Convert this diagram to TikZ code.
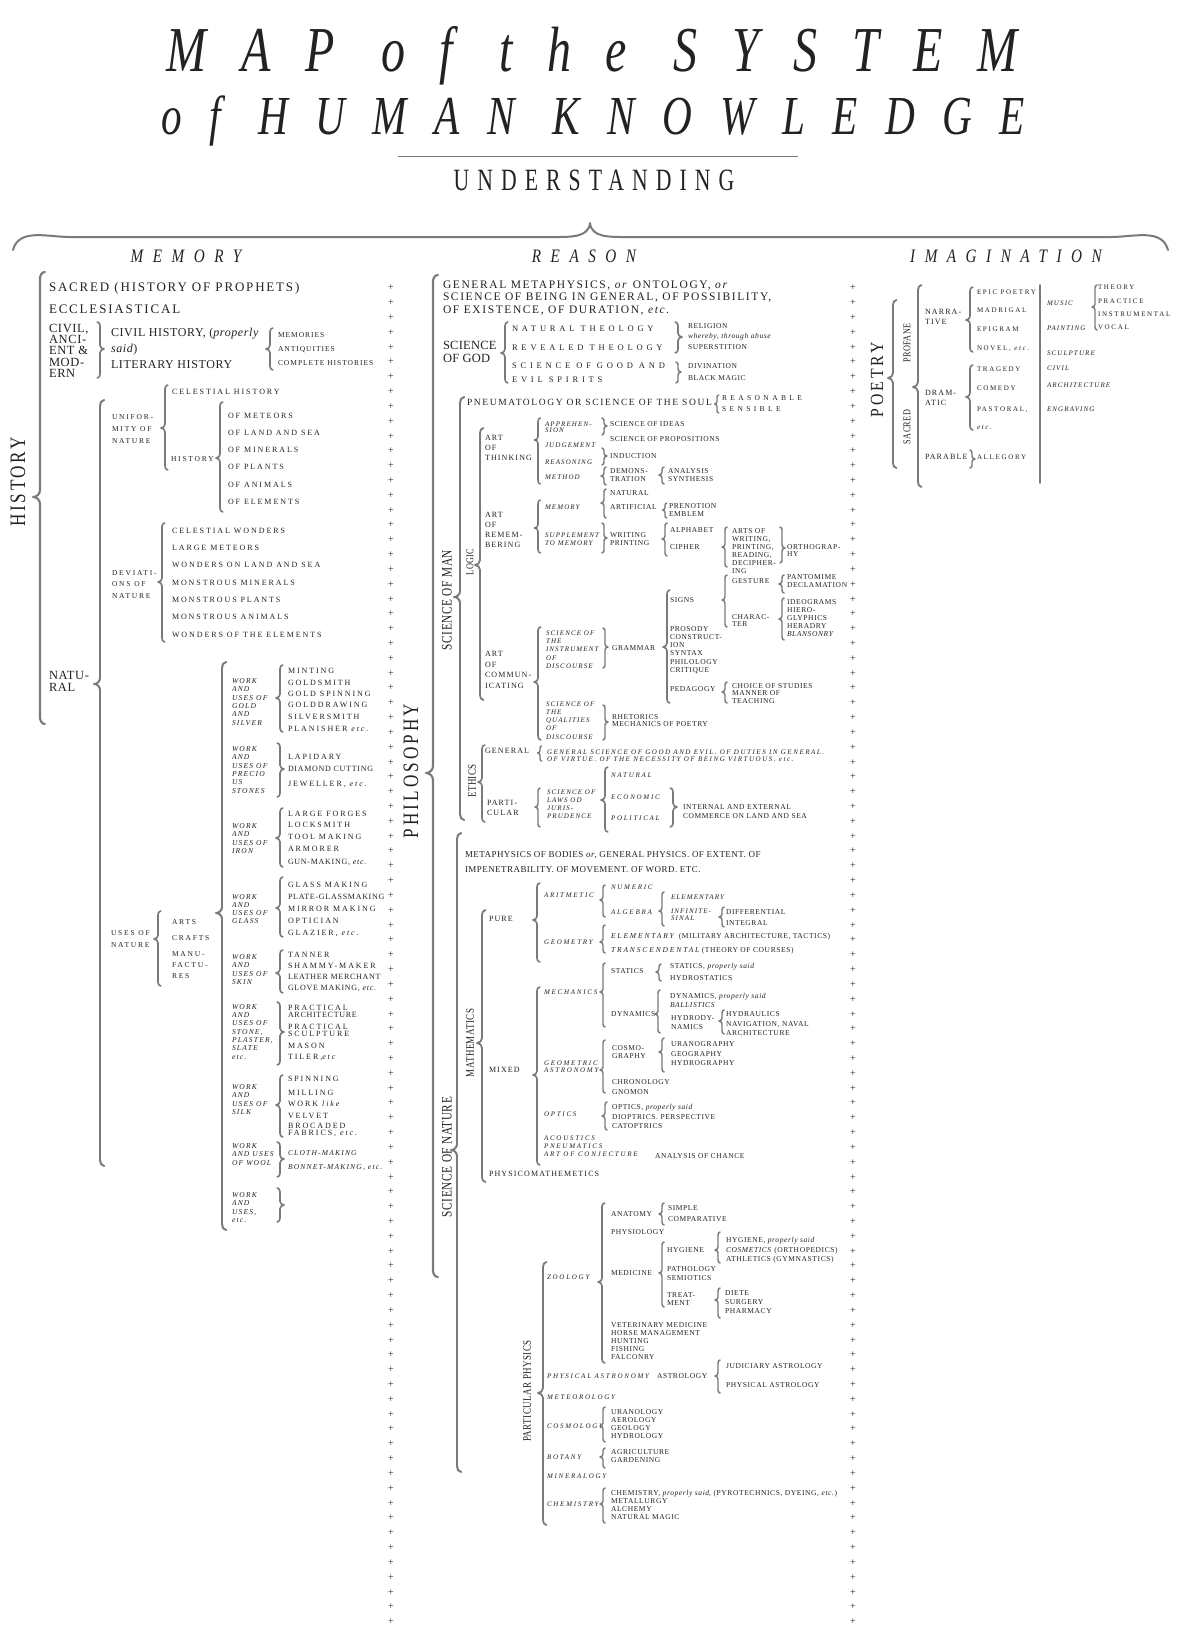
\documentclass[tikz,border=0pt]{standalone}
\usepackage{fontspec}
\setmainfont{Liberation Serif}
\newfontfamily\fA[LetterSpace=14]{Liberation Serif}
\newfontfamily\fAc[LetterSpace=5]{Liberation Serif}
\newfontfamily\fC[LetterSpace=5]{Liberation Serif}
\newfontfamily\fG[LetterSpace=2]{Liberation Serif}
\newfontfamily\fB[LetterSpace=24]{Liberation Serif}
\newfontfamily\fBm[LetterSpace=13]{Liberation Serif}
\newfontfamily\fBn[LetterSpace=9]{Liberation Serif}
\newfontfamily\fD[LetterSpace=8]{Liberation Serif}
\newfontfamily\fF[LetterSpace=45]{Liberation Serif}
\newfontfamily\fH[LetterSpace=14]{Liberation Serif}
\newfontfamily\fHp[LetterSpace=17]{Liberation Serif}
\newfontfamily\fR[LetterSpace=45]{Liberation Serif}
\newfontfamily\fJ[LetterSpace=16]{Liberation Serif}
\newfontfamily\fJw[LetterSpace=22]{Liberation Serif}
\newfontfamily\fX[LetterSpace=25]{Liberation Serif}
\newfontfamily\fRot[FakeStretch=0.78,LetterSpace=4]{Liberation Serif}
\newfontfamily\fBig[FakeStretch=0.78,LetterSpace=12]{Liberation Serif}
\newfontfamily\fPhil[FakeStretch=0.78,LetterSpace=14]{Liberation Serif}
\newfontfamily\fPo[FakeStretch=0.85,LetterSpace=16]{Liberation Serif}
\newfontfamily\fTitleA[FakeStretch=0.75,LetterSpace=54]{Liberation Serif}
\newfontfamily\fTitleB[FakeStretch=0.75,LetterSpace=50]{Liberation Serif}
\newfontfamily\fHead[FakeStretch=0.8,LetterSpace=50]{Liberation Serif}
\newfontfamily\fUnd[FakeStretch=0.7,LetterSpace=26]{Liberation Serif}
\definecolor{ink}{HTML}{222222}
\definecolor{brk}{HTML}{7A7A7A}
\newcounter{tn}
\newcommand\T[4][]{\stepcounter{tn}\node[tx,#1] (t\arabic{tn}) at ({#2},{#3}) {#4};}
\newcommand\ML[5][]{\foreach \s [count=\i from 0] in {#5} {\T[#1]{#2}{#3+\i*#4}{\s}}}
% left brace {  : [a]{x}{ytop}{ybottom}{ytip}
\newcommand\LB[5][3]{\draw[brc,line width={(0.95+#1*0.17)*1pt}] ({#2+#1*0.7},{#3}) to[out=180,in=90] ({#2},{#3+#1}) -- ({#2},{#5-#1}) to[out=-90,in=0] ({#2-#1},{#5}) to[out=0,in=90] ({#2},{#5+#1}) -- ({#2},{#4-#1}) to[out=-90,in=180] ({#2+#1*0.7},{#4});}
% right brace }
\newcommand\RB[5][3]{\draw[brc,line width={(0.95+#1*0.17)*1pt}] ({#2-#1*0.7},{#3}) to[out=0,in=90] ({#2},{#3+#1}) -- ({#2},{#5-#1}) to[out=-90,in=180] ({#2+#1},{#5}) to[out=180,in=90] ({#2},{#5+#1}) -- ({#2},{#4-#1}) to[out=-90,in=0] ({#2-#1*0.7},{#4});}
\tikzset{
 tx/.style={anchor=mid west,inner sep=0pt,outer sep=0pt,text=ink},
 brc/.style={draw=brk,line width=1.5pt,line cap=round,line join=round},
 rl/.style={anchor=center,rotate=90},
 pl/.style={anchor=center,inner sep=0pt,text=ink,font=\fontsize{10}{10}\selectfont},
 sA/.style={font=\fA\fontsize{13}{15}\selectfont},
 sAc/.style={font=\fAc\fontsize{12.5}{14}\selectfont},
 sC/.style={font=\fC\fontsize{12}{14}\selectfont},
 sM/.style={font=\fBm\fontsize{7.5}{9}\selectfont},
 sB/.style={font=\fB\fontsize{8}{9}\selectfont},
 sBn/.style={font=\fBn\fontsize{8}{9}\selectfont},
 sL/.style={font=\fB\fontsize{7.5}{9}\selectfont},
 sW/.style={font=\fJ\itshape\fontsize{7.5}{9}\selectfont},
 sE/.style={font=\fA\fontsize{11.5}{13}\selectfont},
 sG/.style={font=\fG\fontsize{12.5}{14}\selectfont},
 sF/.style={font=\fF\fontsize{8.5}{10}\selectfont},
 sD/.style={font=\fD\fontsize{7.5}{9}\selectfont},
 sH/.style={font=\fHp\fontsize{9.5}{11}\selectfont},
 sR/.style={font=\fR\fontsize{7.5}{9}\selectfont},
 sI/.style={font=\fH\fontsize{8}{9}\selectfont},
 sJ/.style={font=\fJ\itshape\fontsize{7}{8}\selectfont},
 sJw/.style={font=\fJw\itshape\fontsize{7}{8}\selectfont},
 sX/.style={font=\fX\itshape\fontsize{7}{8}\selectfont},
 sK/.style={font=\fC\fontsize{9}{10}\selectfont},
 sN/.style={font=\fB\fontsize{7}{8}\selectfont},
 sBig/.style={font=\fBig\fontsize{22}{22}\selectfont},
 sPhil/.style={font=\fPhil\fontsize{22}{22}\selectfont},
 sPo/.style={font=\fPo\fontsize{18.5}{18.5}\selectfont},
 sRot/.style={font=\fRot\fontsize{14.5}{14.5}\selectfont},
 sRots/.style={font=\fRot\fontsize{10.5}{11}\selectfont},
 sRotm/.style={font=\fRot\fontsize{11.5}{12}\selectfont},
 sTitle/.style={font=\fTitleA\itshape\fontsize{64}{64}\selectfont},
 sTitle2/.style={font=\fTitleB\itshape\fontsize{55}{55}\selectfont},
 sUnd/.style={font=\fUnd\fontsize{31}{31}\selectfont},
 sHead/.style={font=\fHead\itshape\fontsize{19}{19}\selectfont},
}
\begin{document}
\begin{tikzpicture}[x=1pt,y=-1pt]
\fill[white] (0,0) rectangle (1200,1651);
\useasboundingbox (0,0) rectangle (1200,1651);
% ---------- title ----------
\T[anchor=base,sTitle]{592}{72}{MAP of the SYSTEM}
\T[anchor=base,sTitle2]{593}{135}{of HUMAN KNOWLEDGE}
\draw[draw=brk,line width=1pt] (398,156) -- (798,156);
\T[anchor=base,sUnd]{594}{190}{UNDERSTANDING}
\draw[brc,line width=2pt] (13,250) to[out=75,in=180] (70,237) -- (555,237) to[out=0,in=-95] (590,223) to[out=-85,in=180] (625,237) -- (1111,237) to[out=0,in=105] (1168,250);
\T[anchor=base,sHead]{186}{262}{MEMORY}
\T[anchor=base,sHead]{584}{262}{REASON}
\T[anchor=base,sHead]{1006}{262}{IMAGINATION}
% ---------- plus columns ----------
\foreach \i in {0,...,90} {\node[pl] (pa\i) at (391,{288+\i*14.82}) {+}; \node[pl] (pb\i) at (853,{288+\i*14.82}) {+};}
% ================= MEMORY =================
\T[rl,sBig]{18}{482}{HISTORY}
\LB[7]{40}{272}{724}{497}
\T[sA]{49}{289}{SACRED (HISTORY OF PROPHETS)}
\T[sA]{49}{311}{ECCLESIASTICAL}
\ML[sAc]{49}{330}{11.3}{{CIVIL,},ANCI-,ENT \&,MOD-,ERN}
\RB[4]{100}{322}{378}{349}
\T[sC]{111}{334}{CIVIL HISTORY, (\textit{properly}}
\T[sC]{111}{350}{\textit{said})}
\T[sC]{111}{366}{LITERARY HISTORY}
\LB[4]{270}{328}{370}{349}
\T[sM]{278}{335}{MEMORIES}
\T[sM]{278}{349}{ANTIQUITIES}
\T[sM]{278}{363}{COMPLETE HISTORIES}
% natural
\ML[sAc]{49}{677}{12}{NATU-,RAL}
\LB[6]{100}{400}{1166}{684}
\ML[sL]{112}{417}{12}{UNIFOR-,MITY OF,NATURE}
\LB[4]{165}{385}{470}{428}
\T[sB]{172}{392}{CELESTIAL HISTORY}
\T[sL]{171}{459}{HISTORY}
\LB[4]{220}{402}{512}{458}
\ML[sB]{228}{416}{17.2}{OF METEORS,OF LAND AND SEA,OF MINERALS,OF PLANTS,OF ANIMALS,OF ELEMENTS}
\ML[sL]{112}{573}{11.5}{DEVIATI-,ONS OF,NATURE}
\LB[4]{162}{523}{642}{582}
\ML[sB]{172}{531}{17.3}{CELESTIAL WONDERS,LARGE METEORS,WONDERS ON LAND AND SEA,MONSTROUS MINERALS,MONSTROUS PLANTS,MONSTROUS ANIMALS,WONDERS OF THE ELEMENTS}
\ML[sL]{111}{933}{12}{USES OF,NATURE}
\LB[4]{158}{911}{986}{939}
\ML[sL]{172}{922}{16}{ARTS,CRAFTS}
\ML[sL]{172}{954}{11}{MANU-,FACTU-,RES}
\LB[6]{222}{662}{1230}{913}
% gold
\ML[sW]{232}{681}{8.4}{WORK,AND,USES OF,GOLD,AND,SILVER}
\LB[4]{280}{665}{732}{698}
\T[sB]{288}{671}{MINTING}
\T[sB]{288}{683}{GOLDSMITH}
\T[sB]{288}{694}{GOLD SPINNING}
\T[sB]{288}{705}{GOLDDRAWING}
\T[sB]{288}{717}{SILVERSMITH}
\T[sB]{288}{729}{PLANISHER \textit{etc.}}
% stones
\ML[sW]{232}{749}{8.4}{WORK,AND,USES OF,PRECIO,US,STONES}
\RB[4]{280}{743}{797}{769}
\T[sB]{288}{757}{LAPIDARY}
\T[sBn]{288}{769}{DIAMOND CUTTING}
\T[sB]{288}{784}{JEWELLER, \textit{etc.}}
% iron
\ML[sW]{232}{826}{8.4}{WORK,AND,USES OF,IRON}
\LB[4]{280}{808}{867}{838}
\T[sB]{288}{814}{LARGE FORGES}
\T[sB]{288}{825}{LOCKSMITH}
\T[sB]{288}{837}{TOOL MAKING}
\T[sB]{288}{849}{ARMORER}
\T[sBn]{288}{862}{GUN-MAKING, \textit{etc.}}
% glass
\ML[sW]{232}{897}{8.2}{WORK,AND,USES OF,GLASS}
\LB[4]{280}{877}{937}{908}
\T[sB]{288}{885}{GLASS MAKING}
\T[sBn]{288}{897}{PLATE-GLASSMAKING}
\T[sB]{288}{909}{MIRROR MAKING}
\T[sB]{288}{921}{OPTICIAN}
\T[sB]{288}{933}{GLAZIER, \textit{etc.}}
% skin
\ML[sW]{232}{957}{8.4}{WORK,AND,USES OF,SKIN}
\LB[4]{280}{950}{993}{973}
\T[sB]{288}{955}{TANNER}
\T[sB]{288}{966}{SHAMMY-MAKER}
\T[sBn]{288}{977}{LEATHER MERCHANT}
\T[sBn]{288}{988}{GLOVE MAKING, \textit{etc.}}
% stone
\ML[sW]{232}{1007}{8.3}{WORK,AND,USES OF,{STONE,},{PLASTER,},SLATE,etc.}
\RB[4]{280}{1002}{1065}{1032}
\T[sB]{288}{1008}{PRACTICAL}
\T[sBn]{288}{1015}{ARCHITECTURE}
\T[sB]{288}{1027}{PRACTICAL}
\T[sB]{288}{1034}{SCULPTURE}
\T[sB]{288}{1046}{MASON}
\T[sB]{288}{1057}{TILER,\textit{etc}}
% silk
\ML[sW]{232}{1087}{8.5}{WORK,AND,USES OF,SILK}
\LB[4]{280}{1075}{1137}{1105}
\T[sB]{288}{1079}{SPINNING}
\T[sB]{288}{1093}{MILLING}
\T[sB]{288}{1104}{WORK \textit{like}}
\T[sB]{288}{1116}{VELVET}
\T[sB]{288}{1126}{BROCADED}
\T[sB]{288}{1133}{FABRICS, \textit{etc.}}
% wool
\ML[sW]{232}{1146}{8.5}{WORK,AND USES,OF WOOL}
\RB[4]{280}{1142}{1177}{1159}
\T[sW]{288}{1153}{CLOTH-MAKING}
\T[sW]{288}{1167}{BONNET-MAKING, etc.}
% etc
\ML[sW]{232}{1195}{8.4}{WORK,AND,{USES,},etc.}
\RB[4]{280}{1188}{1222}{1205}
% ================= REASON =================
\T[rl,sPhil]{411}{771}{PHILOSOPHY}
\LB[7]{433}{275}{1277}{773}
\T[sE]{443}{286}{GENERAL METAPHYSICS, \textit{or} ONTOLOGY, \textit{or}}
\T[sE]{443}{298}{SCIENCE OF BEING IN GENERAL, OF POSSIBILITY,}
\T[sE]{443}{311}{OF EXISTENCE, OF DURATION, \textit{etc.}}
\T[sG]{443}{347}{SCIENCE}
\T[sG]{443}{360}{OF GOD}
\LB[4]{505}{322}{383}{353}
\T[sF]{512}{329}{NATURAL THEOLOGY}
\T[sF]{512}{348}{REVEALED THEOLOGY}
\T[sF]{512}{366}{SCIENCE OF GOOD AND}
\T[sF]{512}{380}{EVIL SPIRITS}
\RB[4]{678}{322}{353}{337}
\T[sD]{688}{326}{RELIGION}
\T[sD]{688}{336}{\textit{whereby, through abuse}}
\T[sD]{688}{347}{SUPERSTITION}
\RB[3]{678}{362}{383}{372}
\T[sD]{688}{366}{DIVINATION}
\T[sD]{688}{378}{BLACK MAGIC}
% science of man
\T[rl,sRot]{447}{600}{SCIENCE OF MAN}
\LB[6]{460}{397}{820}{597}
\T[sH]{467}{403}{PNEUMATOLOGY OR SCIENCE OF THE SOUL}
\LB[2.5]{717}{395}{413}{404}
\T[sR]{722}{398}{REASONABLE}
\T[sR]{722}{409}{SENSIBLE}
\T[rl,sRots]{470}{562}{LOGIC}
\LB[5]{480}{428}{700}{565}
% art of thinking
\ML[sI]{485}{438}{10}{ART,OF,THINKING}
\LB[3.5]{538}{418}{484}{440}
\T[sJ]{545}{424}{APPREHEN-}
\T[sJ]{545}{430}{SION}
\T[sJ]{545}{445}{JUDGEMENT}
\T[sJ]{545}{462}{REASONING}
\T[sJ]{545}{477}{METHOD}
\RB[3]{604}{418}{435}{426}
\T[sD]{610}{424}{SCIENCE OF IDEAS}
\T[sD]{610}{439}{SCIENCE OF PROPOSITIONS}
\RB[3]{604}{448}{465}{456}
\T[sD]{610}{456}{INDUCTION}
\LB[3]{604}{467}{485}{476}
\T[sD]{610}{471}{DEMONS-}
\T[sD]{610}{479}{TRATION}
\LB[3]{662}{467}{484}{475}
\T[sD]{668}{471}{ANALYSIS}
\T[sD]{668}{479}{SYNTHESIS}
% art of remembering
\ML[sI]{485}{515}{10}{ART,OF,REMEM-,BERING}
\LB[3.5]{538}{500}{553}{528}
\T[sJ]{545}{507}{MEMORY}
\T[sJ]{545}{535}{SUPPLEMENT}
\T[sJ]{545}{543}{TO MEMORY}
\LB[3]{604}{489}{518}{503}
\T[sD]{610}{493}{NATURAL}
\T[sD]{610}{507}{ARTIFICIAL}
\LB[2.5]{665}{503}{518}{510}
\T[sD]{669}{506}{PRENOTION}
\T[sD]{669}{514}{EMBLEM}
\RB[3]{604}{523}{553}{538}
\T[sD]{610}{535}{WRITING}
\T[sD]{610}{543}{PRINTING}
\LB[3]{665}{523}{556}{539}
\T[sD]{670}{530}{ALPHABET}
\T[sD]{670}{547}{CIPHER}
\LB[3]{725}{527}{567}{547}
\ML[sD]{732}{531}{8}{ARTS OF,{WRITING,},{PRINTING,},{READING,},DECIPHER-,ING}
\RB[3]{782}{527}{563}{548}
\T[sD]{787}{547}{ORTHOGRAP-}
\T[sD]{787}{554}{HY}
% art of communicating
\ML[sI]{485}{654}{10.7}{ART,OF,COMMUN-,ICATING}
\LB[4]{538}{627}{740}{682}
\ML[sJ]{546}{633}{8.3}{SCIENCE OF,THE,INSTRUMENT,OF,DISCOURSE}
\RB[3]{605}{628}{668}{647}
\T[sD]{612}{648}{GRAMMAR}
\LB[4]{667}{590}{703}{647}
\T[sD]{670}{600}{SIGNS}
\LB[3]{725}{575}{627}{600}
\T[sD]{732}{581}{GESTURE}
\T[sD]{732}{617}{CHARAC-}
\T[sD]{732}{624}{TER}
\LB[3]{782}{575}{593}{584}
\T[sD]{787}{577}{PANTOMIME}
\T[sD]{787}{585}{DECLAMATION}
\LB[3]{782}{598}{640}{619}
\ML[sD]{787}{602}{8}{IDEOGRAMS,HIERO-,GLYPHICS,HERADRY,\textit{BLANSONRY}}
\ML[sD]{670}{629}{8.2}{PROSODY,CONSTRUCT-,ION,SYNTAX,PHILOLOGY,CRITIQUE}
\T[sD]{670}{689}{PEDAGOGY}
\LB[3]{725}{682}{703}{692}
\ML[sD]{732}{686}{7.5}{CHOICE OF STUDIES,MANNER OF,TEACHING}
\ML[sJ]{546}{704}{8.2}{SCIENCE OF,THE,QUALITIES,OF,DISCOURSE}
\RB[3]{605}{705}{740}{722}
\T[sD]{612}{717}{RHETORICS}
\T[sD]{612}{724}{MECHANICS OF POETRY}
% ethics
\T[rl,sRotm]{472}{781}{ETHICS}
\LB[4]{482}{745}{822}{782}
\T[sI]{485}{751}{GENERAL}
\LB[2.5]{540}{746}{761}{753}
\T[sJw]{547}{752}{GENERAL SCIENCE OF GOOD AND EVIL. OF DUTIES IN GENERAL.}
\T[sJw]{547}{759}{OF VIRTUE. OF THE NECESSITY OF BEING VIRTUOUS. etc.}
\ML[sI]{487}{803}{10}{PARTI-,CULAR}
\LB[3]{538}{788}{827}{807}
\ML[sJ]{547}{792}{8}{SCIENCE OF,LAWS OD,JURIS-,PRUDENCE}
\LB[4]{605}{767}{832}{800}
\T[sX]{611}{775}{NATURAL}
\T[sX]{611}{797}{ECONOMIC}
\T[sX]{611}{818}{POLITICAL}
\RB[4]{673}{788}{827}{807}
\T[sD]{683}{807}{INTERNAL AND EXTERNAL}
\T[sD]{683}{816}{COMMERCE ON LAND AND SEA}
% science of nature
\T[rl,sRot]{447}{1157}{SCIENCE OF NATURE}
\LB[6]{457}{833}{1472}{1150}
\T[sK]{465}{855}{METAPHYSICS OF BODIES \textit{or}, GENERAL PHYSICS. OF EXTENT. OF}
\T[sK]{465}{870}{IMPENETRABILITY. OF MOVEMENT. OF WORD. ETC.}
\T[rl,sRotm]{470}{1043}{MATHEMATICS}
\LB[5]{482}{910}{1182}{1043}
\T[sI]{489}{919}{PURE}
\LB[4]{537}{883}{962}{920}
\T[sX]{544}{895}{ARITMETIC}
\LB[3]{603}{885}{917}{900}
\T[sX]{611}{887}{NUMERIC}
\T[sX]{611}{912}{ALGEBRA}
\LB[3]{662}{892}{926}{911}
\T[sJ]{671}{897}{ELEMENTARY}
\T[sJ]{671}{911}{INFINITE-}
\T[sJ]{671}{918}{SINAL}
\LB[3]{722}{907}{927}{917}
\T[sD]{726}{912}{DIFFERENTIAL}
\T[sD]{726}{923}{INTEGRAL}
\T[sX]{544}{942}{GEOMETRY}
\LB[3]{603}{925}{953}{942}
\T[sD]{611}{936}{{\fX\itshape ELEMENTARY}\ \ (MILITARY ARCHITECTURE, TACTICS)}
\T[sD]{611}{950}{{\fX\itshape TRANSCENDENTAL} (THEORY OF COURSES)}
\T[sI]{489}{1070}{MIXED}
\LB[4]{537}{987}{1165}{1075}
\T[sX]{544}{992}{MECHANICS}
\LB[3]{603}{963}{1027}{992}
\T[sD]{611}{971}{STATICS}
\LB[3]{659}{964}{981}{972}
\T[sD]{670}{966}{STATICS, \textit{properly said}}
\T[sD]{670}{978}{HYDROSTATICS}
\T[sD]{611}{1014}{DYNAMICS}
\LB[3]{658}{990}{1033}{1014}
\T[sD]{670}{996}{DYNAMICS, \textit{properly said}}
\T[sD]{670}{1005}{\textit{BALLISTICS}}
\T[sD]{671}{1018}{HYDRODY-}
\T[sD]{671}{1027}{NAMICS}
\LB[3]{722}{1010}{1034}{1021}
\T[sD]{726}{1014}{HYDRAULICS}
\T[sD]{726}{1024}{NAVIGATION, NAVAL}
\T[sD]{726}{1033}{ARCHITECTURE}
\T[sX]{544}{1063}{GEOMETRIC}
\T[sX]{544}{1070}{ASTRONOMY}
\LB[3]{603}{1040}{1093}{1070}
\T[sD]{612}{1048}{COSMO-}
\T[sD]{612}{1056}{GRAPHY}
\LB[3]{662}{1038}{1072}{1052}
\T[sD]{671}{1044}{URANOGRAPHY}
\T[sD]{671}{1054}{GEOGRAPHY}
\T[sD]{671}{1063}{HYDROGRAPHY}
\T[sD]{612}{1082}{CHRONOLOGY}
\T[sD]{612}{1092}{GNOMON}
\T[sX]{544}{1114}{OPTICS}
\LB[3]{605}{1102}{1130}{1116}
\T[sD]{612}{1107}{OPTICS, \textit{properly said}}
\T[sD]{612}{1117}{DIOPTRICS. PERSPECTIVE}
\T[sD]{612}{1126}{CATOPTRICS}
\ML[sX]{544}{1138}{8}{ACOUSTICS,PNEUMATICS,ART OF CONJECTURE}
\T[sD]{655}{1156}{ANALYSIS OF CHANCE}
\T[sI]{489}{1174}{PHYSICOMATHEMETICS}
% particular physics
\T[rl,sRotm]{527}{1391}{PARTICULAR PHYSICS}
\LB[5]{543}{1262}{1525}{1393}
\T[sX]{547}{1277}{ZOOLOGY}
\LB[4]{602}{1203}{1363}{1282}
\T[sD]{611}{1214}{ANATOMY}
\LB[3]{662}{1203}{1225}{1214}
\T[sD]{668}{1208}{SIMPLE}
\T[sD]{668}{1219}{COMPARATIVE}
\T[sD]{611}{1232}{PHYSIOLOGY}
\T[sD]{611}{1273}{MEDICINE}
\LB[3]{662}{1242}{1307}{1273}
\T[sD]{667}{1250}{HYGIENE}
\LB[3]{718}{1232}{1263}{1250}
\T[sD]{726}{1240}{HYGIENE, \textit{properly said}}
\T[sD]{726}{1250}{\textit{COSMETICS} (ORTHOPEDICS)}
\T[sD]{726}{1259}{ATHLETICS (GYMNASTICS)}
\T[sD]{667}{1269}{PATHOLOGY}
\T[sD]{667}{1278}{SEMIOTICS}
\T[sD]{667}{1295}{TREAT-}
\T[sD]{667}{1303}{MENT}
\LB[3]{718}{1288}{1318}{1300}
\T[sD]{725}{1293}{DIETE}
\T[sD]{725}{1302}{SURGERY}
\T[sD]{725}{1311}{PHARMACY}
\ML[sD]{611}{1325}{8}{VETERINARY MEDICINE,HORSE MANAGEMENT,HUNTING,FISHING,FALCONRY}
\T[sX]{547}{1376}{PHYSICAL ASTRONOMY}
\T[sD]{657}{1376}{ASTROLOGY}
\LB[3]{718}{1360}{1393}{1376}
\T[sD]{726}{1366}{JUDICIARY ASTROLOGY}
\T[sD]{726}{1385}{PHYSICAL ASTROLOGY}
\T[sX]{547}{1397}{METEOROLOGY}
\T[sX]{547}{1426}{COSMOLOGY}
\LB[3]{603}{1407}{1442}{1426}
\ML[sD]{611}{1412}{8}{URANOLOGY,AEROLOGY,GEOLOGY,HYDROLOGY}
\T[sX]{547}{1457}{BOTANY}
\LB[3]{603}{1448}{1468}{1457}
\T[sD]{611}{1452}{AGRICULTURE}
\T[sD]{611}{1460}{GARDENING}
\T[sX]{547}{1476}{MINERALOGY}
\T[sX]{547}{1504}{CHEMISTRY}
\LB[3]{603}{1488}{1523}{1504}
\T[sD]{611}{1493}{CHEMISTRY, \textit{properly said}, (PYROTECHNICS, DYEING, \textit{etc.})}
\T[sD]{611}{1501}{METALLURGY}
\T[sD]{611}{1509}{ALCHEMY}
\T[sD]{611}{1517}{NATURAL MAGIC}
% ================= IMAGINATION =================
\T[rl,sPo]{877}{380}{POETRY}
\LB[5]{893}{300}{468}{378}
\T[rl,sRots]{907}{343}{PROFANE}
\T[rl,sRots]{907}{427}{SACRED}
\LB[5]{918}{285}{487}{387}
\T[sI]{925}{312}{NARRA-}
\T[sI]{925}{322}{TIVE}
\LB[4]{970}{287}{352}{320}
\T[sN]{977}{292}{EPIC POETRY}
\T[sN]{977}{310}{MADRIGAL}
\T[sN]{977}{329}{EPIGRAM}
\T[sN]{977}{348}{NOVEL, \textit{etc.}}
\T[sI]{925}{393}{DRAM-}
\T[sI]{925}{403}{ATIC}
\LB[4]{970}{365}{430}{397}
\T[sN]{977}{369}{TRAGEDY}
\T[sN]{977}{388}{COMEDY}
\T[sN]{977}{409}{PASTORAL,}
\T[sN]{977}{427}{\textit{etc.}}
\T[sI]{925}{457}{PARABLE}
\RB[3]{972}{450}{468}{459}
\T[sN]{977}{457}{ALLEGORY}
\draw[brc,line width=1.8pt] (1040,285) -- (1040,483);
\T[sJ]{1047}{303}{MUSIC}
\T[sJ]{1047}{328}{PAINTING}
\T[sJ]{1047}{353}{SCULPTURE}
\T[sJ]{1047}{368}{CIVIL}
\T[sJ]{1047}{385}{ARCHITECTURE}
\T[sJ]{1047}{409}{ENGRAVING}
\LB[3]{1095}{285}{330}{307}
\T[sN]{1098}{287}{THEORY}
\T[sN]{1098}{301}{PRACTICE}
\T[sN]{1098}{314}{INSTRUMENTAL}
\T[sN]{1098}{327}{VOCAL}
\end{tikzpicture}
\end{document}
